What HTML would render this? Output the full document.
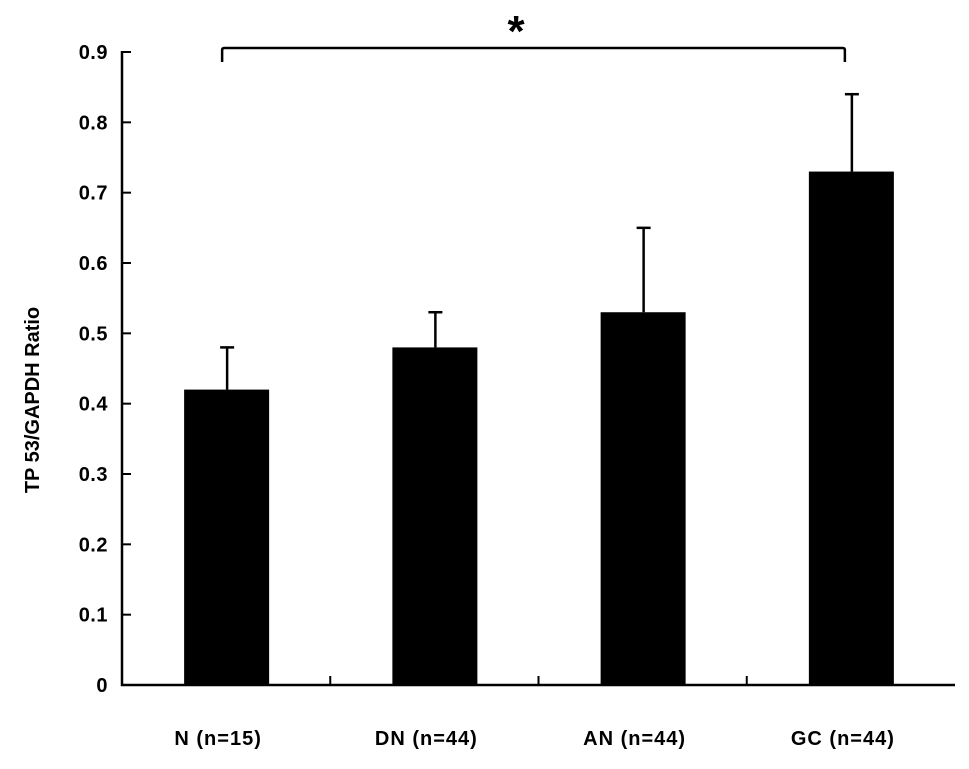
<!DOCTYPE html>
<html><head><meta charset="utf-8"><style>
html,body{margin:0;padding:0;background:#fff;}
svg text{font-family:"Liberation Sans",Arial,sans-serif;font-weight:bold;fill:#000;}
</style></head><body>
<svg width="969" height="764" viewBox="0 0 969 764">
<g id="g"></g>
</svg>
<script>
const categories = ["N (n=15)","DN (n=44)","AN (n=44)","GC (n=44)"];
const values = [0.42,0.48,0.53,0.73];
const errorTops = [0.48,0.53,0.65,0.84];
const yTicks = [0,0.1,0.2,0.3,0.4,0.5,0.6,0.7,0.8,0.9];
const yTickLabels = ["0","0.1","0.2","0.3","0.4","0.5","0.6","0.7","0.8","0.9"];

const NS="http://www.w3.org/2000/svg";
const g=document.getElementById('g');
const x0=122,x1=955,y0=685,yTop=52,yMax=0.9;
const bw=(x1-x0)/categories.length;
const Y=v=>y0-(v/yMax)*(y0-yTop);
const X=i=>x0+bw*(i+0.5);
function mk(t,a){const e=document.createElementNS(NS,t);for(const k in a)e.setAttribute(k,a[k]);g.appendChild(e);return e;}

let ax=mk('path',{d:`M${x0} ${Y(0.9)-1} V${y0} H${x1}`,fill:'none',stroke:'#000','stroke-width':2.5});


yTicks.forEach((v,i)=>{
  let t=mk('line',{x1:x0,x2:x0+9,y1:Y(v),y2:Y(v),stroke:'#000','stroke-width':2});
  
  
  let l=mk('text',{x:108,y:Y(v)+7,'text-anchor':'end','font-size':20,'letter-spacing':0.5});
  l.textContent=yTickLabels[i];
  
  
});
for(let i=1;i<categories.length;i++){
  let t=mk('line',{x1:x0+bw*i,x2:x0+bw*i,y1:y0,y2:y0-9,stroke:'#000','stroke-width':2});
  
  
}
categories.forEach((c,i)=>{
  const cx=X(i);
  let e=mk('line',{x1:cx+1,x2:cx+1,y1:Y(errorTops[i]),y2:Y(values[i]),stroke:'#000','stroke-width':2.5});
  
  
  let cap=mk('line',{x1:cx-6,x2:cx+8,y1:Y(errorTops[i]),y2:Y(errorTops[i]),stroke:'#000','stroke-width':2.5});
  
  
  let b=mk('rect',{x:cx-42,y:Y(values[i]),width:85,height:y0-Y(values[i]),fill:'#000'});
  
  
  let l=mk('text',{x:cx-8,y:745,'text-anchor':'middle','font-size':20,'letter-spacing':1});
  l.textContent=c;
  
  
});
let br=mk('path',{d:`M${X(0)-4} 62 V50 Q${X(0)-4} 48 ${X(0)-2} 48 H${X(3)-8} Q${X(3)-6} 48 ${X(3)-6} 50 V62`,fill:'none',stroke:'#000','stroke-width':2.5});


let st=mk('text',{x:516,y:46,'text-anchor':'middle','font-size':44});
st.textContent='*';


let yt=mk('text',{x:0,y:0,'text-anchor':'middle','font-size':20,transform:'translate(39,400) rotate(-90)'});
yt.textContent='TP 53/GAPDH  Ratio';


</script>
</body></html>
